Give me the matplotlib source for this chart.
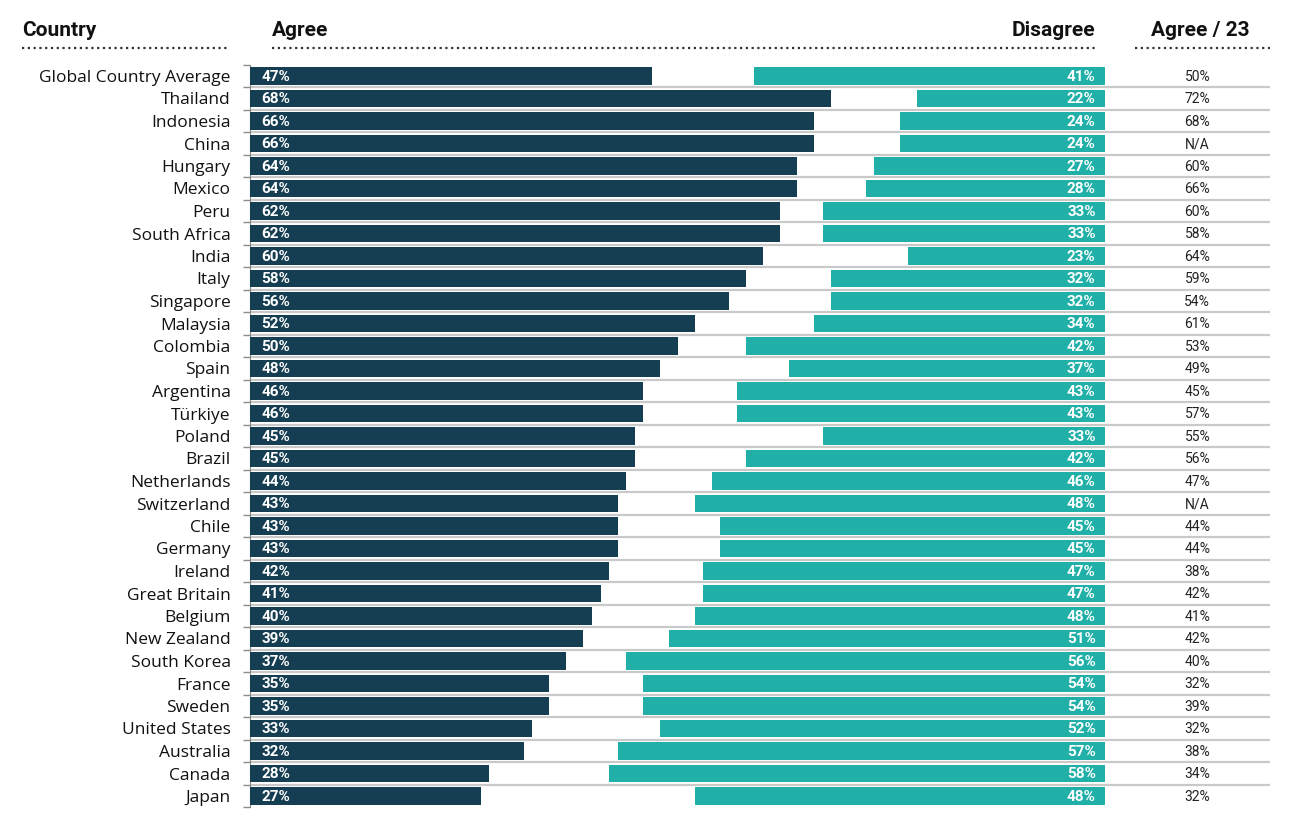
import numpy as np
import matplotlib.pyplot as plt
from matplotlib.lines import Line2D

countries = ["Global Country Average", "Thailand", "Indonesia", "China", "Hungary",
             "Mexico", "Peru", "South Africa", "India", "Italy", "Singapore",
             "Malaysia", "Colombia", "Spain", "Argentina", "Türkiye", "Poland",
             "Brazil", "Netherlands", "Switzerland", "Chile", "Germany", "Ireland",
             "Great Britain", "Belgium", "New Zealand", "South Korea", "France",
             "Sweden", "United States", "Australia", "Canada", "Japan"]
agree = [47, 68, 66, 66, 64, 64, 62, 62, 60, 58, 56, 52, 50, 48, 46, 46, 45,
         45, 44, 43, 43, 43, 42, 41, 40, 39, 37, 35, 35, 33, 32, 28, 27]
disagree = [41, 22, 24, 24, 27, 28, 33, 33, 23, 32, 32, 34, 42, 37, 43, 43, 33,
            42, 46, 48, 45, 45, 47, 47, 48, 51, 56, 54, 54, 52, 57, 58, 48]
agree23 = ["50%", "72%", "68%", "N/A", "60%", "66%", "60%", "58%", "64%", "59%",
           "54%", "61%", "53%", "49%", "45%", "57%", "55%", "56%", "47%", "N/A",
           "44%", "44%", "38%", "42%", "41%", "42%", "40%", "32%", "39%", "32%",
           "38%", "34%", "32%"]

NAVY = "#163e52"
TEAL = "#20b0a8"
W, H = 1292, 835
PX = 8.55  # pixels per percentage point

fig = plt.figure(figsize=(W / 100, H / 100), dpi=100)
top_px, bot_px = 64.75, 807.25
ax = fig.add_axes([250 / W, 1 - bot_px / H, 1020 / W, (bot_px - top_px) / H])

n = len(countries)
y = np.arange(n)
ax.barh(y, agree, height=0.78, color=NAVY, left=0, zorder=3)
ax.barh(y, disagree, height=0.78, color=TEAL, left=[100 - d for d in disagree], zorder=3)

for i in range(n):
    ax.text(1.3, i + 0.04, f"{agree[i]}%", color="white", fontsize=11,
            fontweight="bold", family="Roboto", va="center", ha="left", zorder=4)
    ax.text(98.9, i + 0.04, f"{disagree[i]}%", color="white", fontsize=11,
            fontweight="bold", family="Roboto", va="center", ha="right", zorder=4)
    ax.text(110.8, i + 0.04, agree23[i], color="#222222", fontsize=10,
            family="Roboto", va="center", ha="center", zorder=4)

# separators between rows
for b in np.arange(0.5, n - 1, 1.0):
    ax.axhline(b, color="#c9c9c9", lw=1.6, zorder=2)

ax.set_xlim(0, 1020 / PX)
ax.set_ylim(n - 0.5, -0.5)
ax.set_yticks(y)
ax.set_yticklabels(countries, family="Open Sans", fontsize=12.5, color="#111111")
ax.tick_params(axis="y", which="major", length=0, pad=14)
ax.set_yticks(np.arange(-0.5, n, 1.0), minor=True)
ax.tick_params(axis="y", which="minor", length=5, color="#8a8a8a", width=1)
ax.set_xticks([])
for s in ["top", "right", "bottom"]:
    ax.spines[s].set_visible(False)
ax.spines["left"].set_color("#8a8a8a")

# headers
hdr = dict(fontsize=15, fontweight="bold", family="Roboto", color="#111111", va="center")
fig.text(22 / W, 1 - 30 / H, "Country", ha="left", **hdr)
fig.text(272 / W, 1 - 30 / H, "Agree", ha="left", **hdr)
fig.text(1095 / W, 1 - 30 / H, "Disagree", ha="right", **hdr)
fig.text(1200 / W, 1 - 30 / H, "Agree / 23", ha="center", **hdr)

for x0, x1 in [(22, 228), (272, 1095), (1135, 1270)]:
    fig.add_artist(Line2D([x0 / W, x1 / W], [1 - 48 / H, 1 - 48 / H],
                          color="#333333", lw=1.6, linestyle=(0, (1, 1.6))))

fig.savefig("out.png", dpi=100)
